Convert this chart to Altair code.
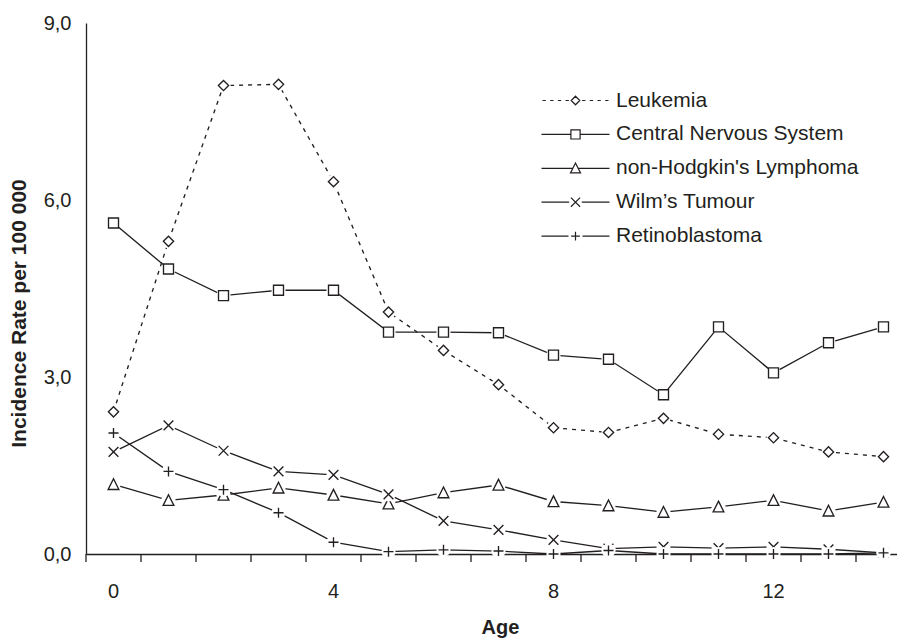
import altair as alt
import pandas as pd

# ---------------- data ----------------
ages = list(range(15))
names = ["Leukemia", "Central Nervous System", "non-Hodgkin's Lymphoma",
         "Wilm\u2019s Tumour", "Retinoblastoma"]
leukemia = [2.41, 5.30, 7.94, 7.96, 6.31, 4.10, 3.45, 2.87, 2.14, 2.06, 2.30, 2.03, 1.97, 1.73, 1.65]
cns      = [5.61, 4.83, 4.38, 4.47, 4.47, 3.76, 3.76, 3.75, 3.37, 3.30, 2.70, 3.85, 3.07, 3.58, 3.85]
nhl      = [1.18, 0.91, 1.00, 1.12, 1.00, 0.85, 1.04, 1.17, 0.89, 0.82, 0.71, 0.80, 0.91, 0.73, 0.88]
wilms    = [1.73, 2.18, 1.75, 1.40, 1.34, 1.01, 0.56, 0.41, 0.24, 0.09, 0.12, 0.10, 0.12, 0.08, 0.02]
retino   = [2.05, 1.40, 1.09, 0.70, 0.20, 0.04, 0.07, 0.05, 0.00, 0.06, 0.00, 0.00, 0.00, 0.00, 0.02]
y_ticks = [0, 3, 6, 9]
series_vals = [leukemia, cns, nhl, wilms, retino]

rows = []
for name, vals in zip(names, series_vals):
    for a, v in zip(ages, vals):
        rows.append({"age": a, "value": v, "series": name})
df = pd.DataFrame(rows)
df_ages = pd.DataFrame({"age": ages})

# ---------------- styling ----------------
INK = "#231f20"
FONT = "Liberation Sans"
TICK_LEN = 8 * 9 / 531  # 8px expressed in data units of the y scale

marker_shapes = {
    names[0]: ("diamond", 105),
    names[1]: ("square", 100),
    names[2]: ("M0,-1.05L1,0.95L-1,0.95Z", 115),
    names[3]: ("M-1,-1L1,1M-1,1L1,-1", 95),
    names[4]: ("M-1,0L1,0M0,-1L0,1", 100),
}

# legend symbols: line + marker, unit = 7px (symbol size 196)
U = 7.0
def p(v):
    return f"{v / U:.3f}"
L = 34.0
def seg(a, b):
    return f"M{p(a)},0L{p(b)},0"

dash_parts = []
for k in range(4):
    s = -33.0 + k * 7.7
    dash_parts.append(seg(s, s + 3.3))
    dash_parts.append(seg(-(s + 3.3), -s))
d = 4.3
leuk_sym = "".join(dash_parts) + f"M0,{p(-d)}L{p(d)},0L0,{p(d)}L{p(-d)},0Z"
q = 4.6
cns_sym = seg(-L, -q) + seg(q, L) + f"M{p(-q)},{p(-q)}L{p(q)},{p(-q)}L{p(q)},{p(q)}L{p(-q)},{p(q)}Z"
nhl_sym = seg(-L, -3.0) + seg(3.0, L) + f"M0,{p(-5.3)}L{p(5.0)},{p(4.6)}L{p(-5.0)},{p(4.6)}Z"
w = 4.6
wil_sym = seg(-L, -6.3) + seg(6.3, L) + f"M{p(-w)},{p(-w)}L{p(w)},{p(w)}M{p(-w)},{p(w)}L{p(w)},{p(-w)}"
r = 4.4
ret_sym = seg(-L, -7.0) + seg(7.0, L) + f"M{p(-r)},0L{p(r)},0M0,{p(-r)}L0,{p(r)}"
legend_paths = [leuk_sym, cns_sym, nhl_sym, wil_sym, ret_sym]

# ---------------- encodings ----------------
x_scale = alt.Scale(type="band", range=[0, 825], paddingInner=0, paddingOuter=0)
x_axis = alt.Axis(
    title="Age",
    ticks=False,
    domainColor=INK,
    domainWidth=1.3,
    labelExpr="datum.value % 4 === 0 ? datum.label : ''",
    labelAngle=0,
    labelFont=FONT,
    labelFontSize=20,
    labelColor=INK,
    labelPadding=27,
    labelOverlap=False,
    titleFont=FONT,
    titleFontSize=20,
    titleFontWeight="bold",
    titleColor=INK,
    titleX=414,
    titleY=79,
    titleBaseline="alphabetic",
    grid=False,
)


def x_enc(**kw):
    return alt.X("age:O", sort=ages, scale=x_scale, axis=x_axis, **kw)


y_scale = alt.Scale(domain=[0, 9], nice=False)
y_axis = alt.Axis(
    title="Incidence Rate per 100 000",
    values=y_ticks,
    ticks=False,
    domainColor=INK,
    domainWidth=1.3,
    labelExpr="replace(format(datum.value, '.1f'), '.', ',')",
    labelFont=FONT,
    labelFontSize=20,
    labelColor=INK,
    labelPadding=15,
    titleFont=FONT,
    titleFontSize=21,
    titleFontWeight="bold",
    titleColor=INK,
    titleX=-61,
    titleY=290,
    titleAngle=270,
    titleBaseline="alphabetic",
    grid=False,
)
y_enc = alt.Y("value:Q", scale=y_scale, axis=y_axis)

layers = []

# x-axis ticks at the band boundaries (drawn from the age categories)
layers.append(
    alt.Chart(df_ages).mark_rule(color=INK, strokeWidth=1.3, opacity=1, clip=False)
    .encode(
        x=x_enc(bandPosition=0),
        y=alt.datum(0, type="quantitative", scale=y_scale, axis=y_axis),
        y2=alt.datum(-TICK_LEN),
    )
)

for name in names:
    sub = df[df["series"] == name]
    kw = dict(color=INK, strokeWidth=1.35)
    if name == names[0]:
        kw["strokeDash"] = [4, 5]
    layers.append(alt.Chart(sub).mark_line(**kw).encode(x=x_enc(), y=y_enc))

# per series: white halo (so lines stop short of markers), then the marker
for name in names:
    sub = df[df["series"] == name]
    shp, sz = marker_shapes[name]
    layers.append(
        alt.Chart(sub).mark_point(shape="circle", filled=True, color="white", size=200, opacity=1)
        .encode(x=x_enc(), y=y_enc)
    )
    layers.append(
        alt.Chart(sub).mark_point(shape=shp, size=sz, filled=True, fill="white",
                                  stroke=INK, strokeWidth=1.35, opacity=1)
        .encode(x=x_enc(), y=y_enc)
    )

legend_layer = (
    alt.Chart(df)
    .transform_filter("false")
    .mark_point(filled=False, color=INK, size=196, opacity=1, strokeWidth=1.2)
    .encode(
        x=x_enc(),
        y=y_enc,
        shape=alt.Shape(
            "series:N",
            scale=alt.Scale(domain=names, range=legend_paths),
            legend=alt.Legend(
                title=None,
                orient="none",
                legendX=479,
                legendY=67,
                symbolSize=196,
                symbolStrokeColor=INK,
                symbolStrokeWidth=1.2,
                symbolFillColor="white",
                labelOffset=30,
                rowPadding=11.9,
                labelFont=FONT,
                labelFontSize=21,
                labelColor=INK,
                labelLimit=0,
                padding=0,
            ),
        ),
    )
)
layers.append(legend_layer)

chart = (
    alt.layer(*layers)
    .properties(
        width=811,
        height=531,
        autosize=alt.AutoSizeParams(type="none"),
        padding={"left": 78, "top": 15, "right": 0, "bottom": 85},
        background="white",
    )
    .configure_view(stroke=None)
)

chart.save("out.html", embed_options={"renderer": "svg", "actions": False})
